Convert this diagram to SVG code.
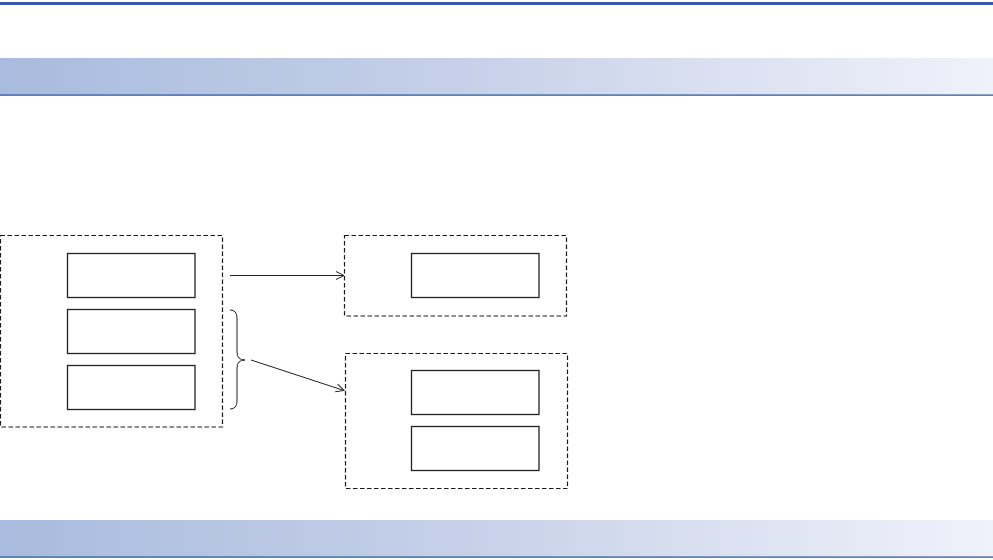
<svg xmlns="http://www.w3.org/2000/svg" width="993" height="560" viewBox="0 0 993 560">
<defs>
<linearGradient id="band" x1="0" y1="0" x2="1" y2="0">
<stop offset="0" stop-color="#a8bbde"/>
<stop offset="0.5" stop-color="#c8d2e9"/>
<stop offset="1" stop-color="#f0f2fa"/>
</linearGradient>
<marker id="arr" viewBox="0 0 10 10" refX="9" refY="5" markerWidth="10" markerHeight="10" markerUnits="userSpaceOnUse" orient="auto">
<path d="M1,1 L9,5 L1,9" fill="none" stroke="#222" stroke-width="1"/>
</marker>
<style>
.dash{fill:none;stroke:#1a1a1a;stroke-width:1.2;stroke-dasharray:4.5 2.5}
.box{fill:#fff;stroke:#222;stroke-width:1.3}
.conn{fill:none;stroke:#222;stroke-width:1}
</style>
</defs>
<rect width="993" height="560" fill="#fff"/>
<rect x="0" y="2" width="993" height="3" fill="#3a57aa"/>
<rect x="0" y="58" width="993" height="37" fill="url(#band)"/>
<rect x="0" y="94.5" width="993" height="1.2" fill="#1f4f8e"/>
<rect x="0" y="520" width="993" height="37" fill="url(#band)"/>
<rect x="0" y="556.5" width="993" height="1.2" fill="#1f4f8e"/>
<g id="groupLeft">
<rect class="dash" x="0.5" y="235.5" width="222" height="191.5"/>
<rect id="boxL1" class="box" x="67.5" y="253.5" width="127.5" height="44"/>
<rect id="boxL2" class="box" x="67.5" y="309.5" width="127.5" height="44"/>
<rect id="boxL3" class="box" x="67.5" y="365.5" width="127.5" height="44"/>
</g>
<g id="groupRightTop">
<rect class="dash" x="344.5" y="235.5" width="222" height="80.5"/>
<rect id="boxR1" class="box" x="411.5" y="253.5" width="127.5" height="44"/>
</g>
<g id="groupRightBottom">
<rect class="dash" x="345.5" y="353.5" width="222" height="135"/>
<rect id="boxR2" class="box" x="411.5" y="370.5" width="127.5" height="44"/>
<rect id="boxR3" class="box" x="411.5" y="426.5" width="127.5" height="44"/>
</g>
<g id="connectors">
<line class="conn" x1="230" y1="275.5" x2="344" y2="275.5" marker-end="url(#arr)"/>
<path class="conn" d="M230,310 Q237,310 237,318 L237,352 Q237,360 245,360 Q237,360 237,368 L237,401 Q237,409 230,409"/>
<line class="conn" x1="251" y1="360" x2="344" y2="390.5" marker-end="url(#arr)"/>
</g>
</svg>
